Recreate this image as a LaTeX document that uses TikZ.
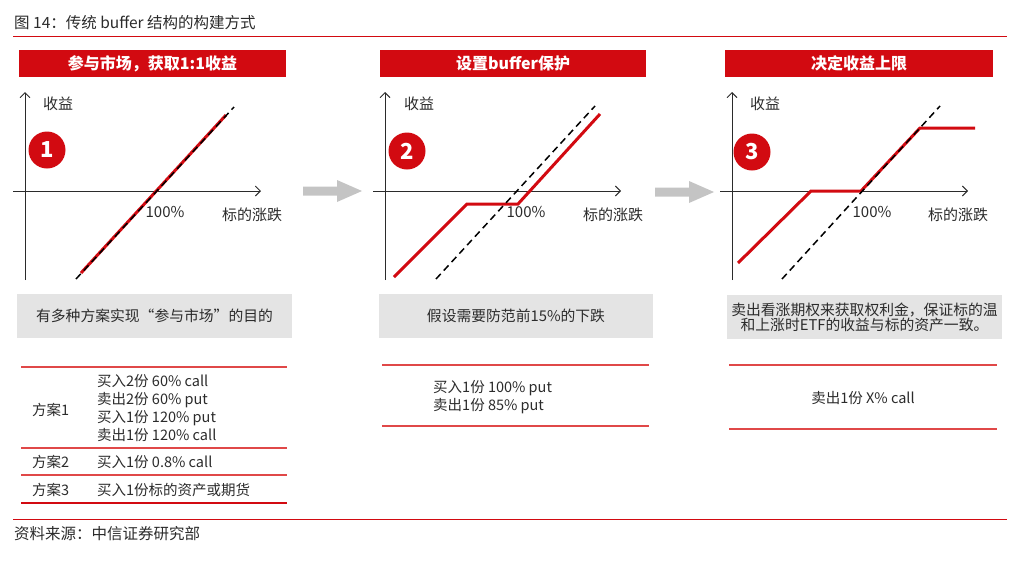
\documentclass[tikz,border=0pt]{standalone}
\usepackage{fontspec}
\setmainfont{Noto Sans CJK SC}
\usetikzlibrary{arrows.meta}
\definecolor{cred}{HTML}{D20A11}
\definecolor{lred}{HTML}{E04848}
\definecolor{boxgray}{HTML}{E4E4E4}
\definecolor{arrgray}{HTML}{C4C4C4}
\definecolor{txt}{HTML}{2B2B2B}
\tikzset{
  hdr/.style={fill=cred,text=white,font=\fontsize{16}{18}\selectfont\bfseries,inner sep=0pt},
  graybox/.style={fill=boxgray,text=txt,inner sep=0pt,font=\fontsize{14.8}{16}\selectfont},
  lbl/.style={text=txt,font=\fontsize{14.5}{17}\selectfont,inner sep=0pt},
  clbl/.style={text=txt,font=\fontsize{15}{17}\selectfont,inner sep=0pt},
  axis/.style={draw=txt,line width=0.9pt,-{Straight Barb[length=5pt,width=10pt]}},
  payoff/.style={draw=cred,line width=3pt,line join=miter},
  dash45/.style={draw=black,line width=1.5pt,dashed,dash pattern=on 7pt off 4.5pt},
  numcirc/.style={circle,fill=cred,text=white,minimum size=37pt,inner sep=0pt,font=\fontsize{22}{24}\selectfont\bfseries},
  rline/.style={draw=lred,line width=1.3pt},
  redrule/.style={draw=cred,line width=1pt},
  garrow/.style={fill=arrgray}
}
\begin{document}
\begin{tikzpicture}[x=1pt,y=-1pt]
\useasboundingbox (0,0) rectangle (1024,560);
% title
\node[lbl,anchor=base west,font=\fontsize{15.5}{17}\selectfont] (title) at (14,28) {图 14：传统 buffer 结构的构建方式};
\coordinate (tl) at (13,36); \coordinate (tr) at (1007,36);
\draw[redrule] (tl) -- (tr);
% headers
\node[hdr,minimum width=267pt,minimum height=27pt] (h1) at (152.5,63.5) {参与市场，获取1:1收益};
\node[hdr,minimum width=266pt,minimum height=27pt] (h2) at (513,63.5) {设置buffer保护};
\node[hdr,minimum width=268pt,minimum height=27pt] (h3) at (859,63.5) {决定收益上限};
% ---------- chart 1
\coordinate (y1b) at (25,280); \coordinate (y1t) at (25,92);
\coordinate (x1l) at (13,191); \coordinate (x1r) at (261,191);
\draw[axis] (y1b) -- (y1t);
\draw[axis] (x1l) -- (x1r);
\coordinate (r1a) at (81,273); \coordinate (r1b) at (226,115);
\draw[payoff] (r1a) -- (r1b);
\coordinate (d1a) at (76,279); \coordinate (d1b) at (234,107);
\draw[dash45] (d1a) -- (d1b);
\node[clbl] (s1) at (58,104) {收益};
\node[numcirc] (c1) at (47,150) {1};
\node[clbl] (p1) at (165,212) {100\%};
\node[clbl] (m1) at (252,215) {标的涨跌};
% ---------- chart 2
\coordinate (y2b) at (385,280); \coordinate (y2t) at (385,92);
\coordinate (x2l) at (373,191); \coordinate (x2r) at (621,191);
\draw[axis] (y2b) -- (y2t);
\draw[axis] (x2l) -- (x2r);
\coordinate (r2a) at (394,277); \coordinate (r2b) at (467,204);
\coordinate (r2c) at (518,204); \coordinate (r2d) at (600,114);
\draw[payoff] (r2a) -- (r2b) -- (r2c) -- (r2d);
\coordinate (d2a) at (436,279); \coordinate (d2b) at (595,106);
\draw[dash45] (d2a) -- (d2b);
\node[clbl] (s2) at (419,104) {收益};
\node[numcirc] (c2) at (407,151) {2};
\node[clbl] (p2) at (526,212) {100\%};
\node[clbl] (m2) at (613,215) {标的涨跌};
% ---------- chart 3
\coordinate (y3b) at (732,280); \coordinate (y3t) at (732,92);
\coordinate (x3l) at (720,191); \coordinate (x3r) at (968,191);
\draw[axis] (y3b) -- (y3t);
\draw[axis] (x3l) -- (x3r);
\coordinate (r3a) at (738,263); \coordinate (r3b) at (811,191);
\coordinate (r3c) at (861,191); \coordinate (r3d) at (920,128);
\coordinate (r3e) at (975,128);
\draw[payoff] (r3a) -- (r3b) -- (r3c) -- (r3d) -- (r3e);
\coordinate (d3a) at (782,279); \coordinate (d3b) at (940,106);
\draw[dash45] (d3a) -- (d3b);
\node[clbl] (s3) at (765,104) {收益};
\node[numcirc] (c3) at (752,152) {3};
\node[clbl] (p3) at (872,212) {100\%};
\node[clbl] (m3) at (958,215) {标的涨跌};
% ---------- gray arrows
\fill[garrow] (303,186.5) -- (337,186.5) -- (337,180) -- (362,191) -- (337,202) -- (337,195.5) -- (303,195.5) -- cycle;
\fill[garrow] (655,187.5) -- (689,187.5) -- (689,181) -- (714,192) -- (689,203) -- (689,196.5) -- (655,196.5) -- cycle;
% ---------- gray boxes
\node[graybox,minimum width=275pt,minimum height=44pt] (g1) at (154.5,316) {有多种方案实现“参与市场”的目的};
\node[graybox,minimum width=274pt,minimum height=44pt] (g2) at (516,316) {假设需要防范前15\%的下跌};
\node[graybox,minimum width=275pt,minimum height=44pt,font=\fontsize{14.8}{14}\selectfont,align=center] (g3) at (864.5,317) {卖出看涨期权来获取权利金，保证标的温\\和上涨时ETF的收益与标的资产一致。};
% ---------- table 1
\coordinate (t1a) at (21,367); \coordinate (t1b) at (287,367);
\coordinate (t1c) at (21,448); \coordinate (t1d) at (287,448);
\coordinate (t1e) at (21,475); \coordinate (t1f) at (287,475);
\coordinate (t1g) at (21,503); \coordinate (t1h) at (287,503);
\draw[rline] (t1a) -- (t1b);
\draw[rline] (t1c) -- (t1d);
\draw[rline] (t1e) -- (t1f);
\draw[redrule,line width=1.3pt] (t1g) -- (t1h);
\node[lbl,anchor=west] (k1) at (32,410) {方案1};
\node[lbl,anchor=west,align=left,font=\fontsize{14.5}{18}\selectfont] (v1) at (97,408) {买入2份 60\% call\\卖出2份 60\% put\\买入1份 120\% put\\卖出1份 120\% call};
\node[lbl,anchor=west] (k2) at (32,462) {方案2};
\node[lbl,anchor=west] (v2) at (97,462) {买入1份 0.8\% call};
\node[lbl,anchor=west] (k3) at (32,490) {方案3};
\node[lbl,anchor=west] (v3) at (97,490) {买入1份标的资产或期货};
% ---------- table 2
\coordinate (t2a) at (382,365); \coordinate (t2b) at (649,365);
\coordinate (t2c) at (382,426); \coordinate (t2d) at (649,426);
\draw[rline] (t2a) -- (t2b);
\draw[rline] (t2c) -- (t2d);
\node[lbl,anchor=west,align=left,font=\fontsize{14.5}{18}\selectfont] (v4) at (433,397) {买入1份 100\% put\\卖出1份 85\% put};
% ---------- table 3
\coordinate (t3a) at (729,365); \coordinate (t3b) at (997,365);
\coordinate (t3c) at (729,429); \coordinate (t3d) at (997,429);
\draw[rline] (t3a) -- (t3b);
\draw[rline] (t3c) -- (t3d);
\node[lbl] (v5) at (863,398) {卖出1份 X\% call};
% ---------- footer
\coordinate (fl) at (13,519); \coordinate (fr) at (1007,519);
\draw[redrule] (fl) -- (fr);
\node[lbl,anchor=base west,font=\fontsize{15.5}{17}\selectfont] (src) at (14,539) {资料来源：中信证券研究部};
\end{tikzpicture}
\end{document}
